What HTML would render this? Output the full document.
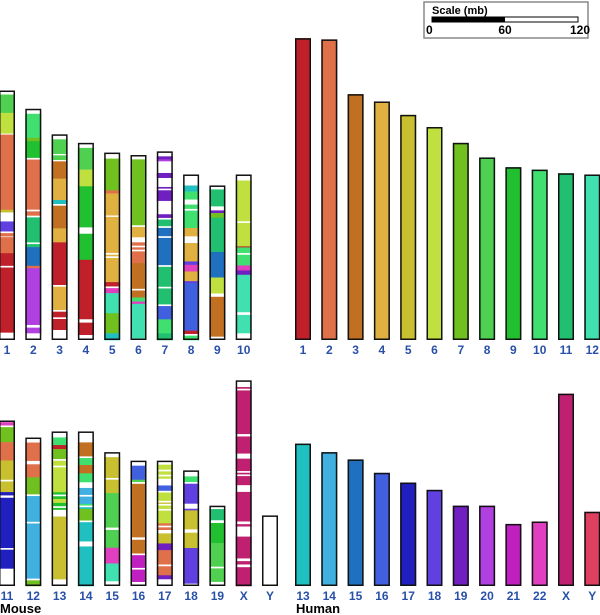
<!DOCTYPE html>
<html><head><meta charset="utf-8"><style>
body{margin:0;background:#fff;width:600px;height:615px;overflow:hidden}
svg{display:block}
text{font-family:"Liberation Sans",Arial,sans-serif}
</style></head><body>
<svg id="chart" width="600" height="615">
<g id="scale">
<rect x="424" y="2" width="164" height="36" fill="#fff" stroke="#888" stroke-width="1.5"/>
<text x="432" y="14" font-size="11" font-weight="bold">Scale (mb)</text>
<rect x="432" y="17" width="146" height="5" fill="#fff" stroke="#000" stroke-width="1"/>
<rect x="432" y="17" width="73" height="5" fill="#000"/>
<text x="426" y="34" font-size="12" font-weight="bold">0</text>
<text x="505" y="34" font-size="12" font-weight="bold" text-anchor="middle">60</text>
<text x="590" y="34" font-size="12" font-weight="bold" text-anchor="end">120</text>
</g>
<text x="0" y="613" font-size="13" font-weight="bold">Mouse</text>
<text x="296" y="613" font-size="13" font-weight="bold">Human</text>
</svg>
<script>
const colors={1:"#c0202a",2:"#e0704a",3:"#c07020",4:"#e0b040",5:"#c8c030",6:"#c0e040",7:"#70c020",8:"#50d050",9:"#20c030",10:"#40e070",11:"#20c070",12:"#40e0b0",13:"#20c0c0",14:"#40b0e0",15:"#2070c0",16:"#4060e0",17:"#2020c0",18:"#6040e0",19:"#7020c0",20:"#b040e0",21:"#c020c0",22:"#e040c0",X:"#c02070",Y:"#e04060",w:"#ffffff"};
const humanNames=["1","2","3","4","5","6","7","8","9","10","11","12","13","14","15","16","17","18","19","20","21","22","X","Y"];
const humanLengths=[248,247,202,196,185,175,162,150,142,140,137,136,117,110,104,93,85,79,66,66,51,53,158,61];
const mouseNames=["1","2","3","4","5","6","7","8","9","10","11","12","13","14","15","16","17","18","19","X","Y"];
const mouseLengths=[205,190,169,162,154,152,155,136,127,136,136,122,127,127,110,103,103,95,66,169,58];
const mouseSegments=[
[[12,"w"],[55,8],[62,6],[3,"w"],[225,2],[8,5],[27,"w"],[30,18],[5,"w"],[10,2],[2,"w"],[48,2],[38,1],[5,"w"],[195,1],[22,"w"]],
[[15,"w"],[72,10],[10,7],[50,9],[5,"w"],[150,2],[5,"w"],[13,2],[5,"w"],[75,11],[5,"w"],[9,11],[56,15],[7,2],[170,20],[8,"w"],[17,20],[20,"w"]],
[[15,"w"],[44,8],[4,"w"],[14,8],[4,"w"],[52,3],[64,4],[12,13],[5,"w"],[68,3],[42,4],[128,1],[5,"w"],[70,4],[5,"w"],[17,1],[5,"w"],[33,1],[30,"w"]],
[[15,"w"],[65,8],[50,6],[123,9],[19,"w"],[78,9],[178,1],[10,"w"],[37,1],[15,"w"]],
[[18,"w"],[7,7],[88,7],[9,2],[66,4],[4,"w"],[108,4],[5,"w"],[5,4],[5,"w"],[72,4],[13,1],[5,"w"],[15,22],[60,12],[12,7],[48,7],[20,13]],
[[13,"w"],[197,7],[5,"w"],[31,4],[15,"w"],[10,2],[5,"w"],[7,2],[5,"w"],[35,2],[77,3],[5,"w"],[21,3],[12,10],[7,22],[103,12],[5,"w"]],
[[15,"w"],[9,19],[6,20],[35,"w"],[15,19],[27,"w"],[5,19],[5,"w"],[32,19],[40,"w"],[11,19],[5,"w"],[20,11],[5,"w"],[25,15],[5,"w"],[82,15],[5,"w"],[60,11],[5,"w"],[48,11],[5,"w"],[40,16],[42,10],[20,11]],
[[33,"w"],[18,13],[24,10],[15,"w"],[13,10],[5,"w"],[52,10],[25,4],[20,"w"],[55,4],[10,18],[20,22],[29,4],[6,18],[142,16],[10,1],[5,"w"],[13,10]],
[[12,"w"],[51,11],[12,"w"],[8,19],[14,7],[103,11],[77,15],[48,6],[10,"w"],[120,3],[10,"w"]],
[[18,"w"],[122,6],[5,"w"],[70,6],[3,1],[17,10],[5,"w"],[32,10],[15,22],[13,19],[112,12],[8,"w"],[55,12],[20,"w"]],
[[5,"w"],[10,22],[5,"w"],[45,7],[55,2],[58,5],[5,"w"],[32,5],[10,17],[7,"w"],[151,17],[5,"w"],[57,17],[52,"w"]],
[[15,"w"],[55,2],[10,"w"],[39,2],[51,7],[5,"w"],[77,14],[5,"w"],[165,14],[5,"w"],[17,7]],
[[18,"w"],[23,10],[12,1],[30,7],[5,"w"],[15,6],[5,"w"],[75,6],[7,9],[5,"w"],[8,9],[12,6],[10,9],[5,"w"],[6,9],[20,"w"],[189,5],[20,"w"]],
[[33,"w"],[42,3],[5,"w"],[21,10],[25,3],[27,10],[17,"w"],[21,14],[5,"w"],[22,14],[5,10],[5,"w"],[5,13],[35,7],[5,"w"],[58,13],[15,"w"],[119,13]],
[[15,"w"],[62,5],[5,"w"],[40,5],[103,8],[7,"w"],[53,8],[47,22],[53,12],[14,"w"]],
[[15,"w"],[42,16],[7,8],[5,"w"],[160,3],[7,"w"],[41,3],[5,"w"],[38,21],[5,"w"],[37,21],[12,"w"]],
[[12,"w"],[15,6],[5,"w"],[10,6],[5,"w"],[7,6],[20,"w"],[16,16],[5,"w"],[25,6],[5,"w"],[4,5],[5,"w"],[10,6],[5,"w"],[38,6],[7,2],[5,"w"],[8,2],[10,"w"],[30,5],[20,19],[43,2],[5,"w"],[27,2],[12,19],[20,"w"]],
[[18,"w"],[17,10],[5,"w"],[60,18],[15,"w"],[5,18],[57,5],[10,"w"],[46,5],[107,18],[7,"w"]],
[[10,"w"],[33,11],[8,"w"],[59,9],[70,8],[5,"w"],[40,8],[12,"w"]],
[[20,"w"],[5,"X"],[5,"w"],[130,"X"],[7,"w"],[51,"X"],[15,"w"],[37,"X"],[5,"w"],[5,"X"],[5,"w"],[27,"X"],[20,"w"],[88,"X"],[8,"w"],[7,"X"],[30,"w"],[65,"X"],[8,"w"],[10,"X"],[8,"w"],[56,"X"]],
[[1,"w"]]
];
const PXMB=1.217, W=16, STEP=26.3;
const svg=document.getElementById('chart');
const NS="http://www.w3.org/2000/svg";
function mk(t,a){const e=document.createElementNS(NS,t);for(const k in a)e.setAttribute(k,a[k]);return e;}
function xPos(x0,i){return x0+i*STEP;}
function yTop(base,len){return base-len*PXMB;}
function drawChrom(species,name,len,segs,x,base,fill){
  const g=mk('g',{});
  
  
  const top=yTop(base,len), h=len*PXMB;
  const bg=mk('rect',{x:x,y:top,width:W,height:h,fill:fill||'#fff'});
  
  
  g.appendChild(bg);
  if(segs){
    const tot=segs.reduce((s,v)=>s+v[0],0);
    let y=top;
    segs.forEach((s,j)=>{
      const sh=s[0]/tot*h;
      const r=mk('rect',{x:x,y:y,width:W,height:sh+0.3,fill:colors[s[1]]});
      
      
      g.appendChild(r);y+=sh;
    });
  }
  const b=mk('rect',{x:x+0.75,y:top+0.75,width:W-1.5,height:h-1.5,fill:'none',stroke:'#111','stroke-width':1.5});
  
  
  g.appendChild(b);
  const t=mk('text',{x:x+W/2,y:base+14,'font-size':12,'font-weight':'bold',fill:'#2850a8','text-anchor':'middle'});
  t.textContent=name;
  
  
  g.appendChild(t);
  svg.appendChild(g);
}
mouseNames.forEach((n,i)=>{
  const row=i<10?0:1, col=row?i-10:i;
  drawChrom('mouse',n,mouseLengths[i],mouseSegments[i],xPos(-1,col),row?586:340);
});
humanNames.forEach((n,i)=>{
  const row=i<12?0:1, col=row?i-12:i;
  drawChrom('human',n,humanLengths[i],null,xPos(295,col),row?586:340,colors[n]);
});
</script>
</body></html>
